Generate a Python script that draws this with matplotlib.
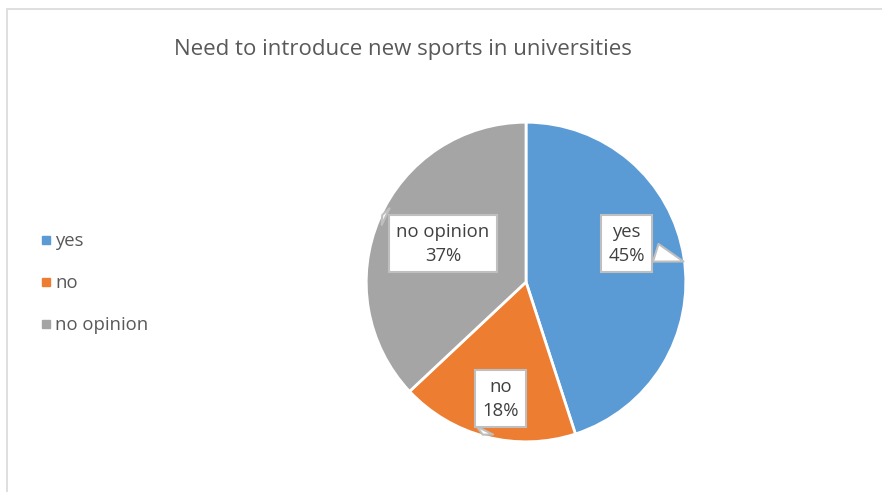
import matplotlib.pyplot as plt
import numpy as np
from matplotlib.patches import Rectangle

# Données
labels = ["yes", "no", "no opinion"]
values = [45, 18, 37]
colors = ["#5B9BD5", "#ED7D31", "#A5A5A5"]

# positions des étiquettes (en unités de rayon) et angle des pointes des bulles
label_xy = [(0.63, 0.24), (-0.16, -0.73), (-0.52, 0.24)]
tip_angles = [7, -106, 155]
tip_r = 1.01

plt.rcParams['font.family'] = ['Open Sans', 'DejaVu Sans']

fig = plt.figure(figsize=(8.82, 4.92), dpi=100)
fig.patch.set_facecolor('white')

# cadre gris clair du graphique
fig.patches.append(Rectangle((7 / 882, -0.1), 1.1, 1 - 9 / 492 + 0.1,
                             transform=fig.transFigure, fill=False,
                             edgecolor='#d9d9d9', linewidth=1.2))

ax = fig.add_axes([0.4116, 0.0955, 0.3696, 0.6626])
wedges, _ = ax.pie(values, colors=colors, startangle=90, counterclock=False,
                   wedgeprops=dict(edgecolor='white', linewidth=2))
ax.set_xlim(-1.02, 1.02)
ax.set_ylim(-1.02, 1.02)
ax.set_aspect('equal')

# étiquettes en bulles
for lab, val, (tx, ty), a in zip(labels, values, label_xy, tip_angles):
    ang = np.deg2rad(a)
    xy = (tip_r * np.cos(ang), tip_r * np.sin(ang))
    ax.annotate(f"{lab}\n{val}%", xy=xy, xytext=(tx, ty),
                ha='center', va='center', fontsize=13.3, color='#404040',
                linespacing=1.45,
                bbox=dict(boxstyle='square,pad=0.4', fc='white',
                          ec='#bfbfbf', lw=1.5),
                arrowprops=dict(arrowstyle='wedge,tail_width=1.0,shrink_factor=0.5',
                                fc='white', ec='#bfbfbf', lw=1.5),
                annotation_clip=False)

fig.text(403 / 882, 1 - 50 / 492, "Need to introduce new sports in universities",
         ha='center', va='center', fontsize=16, color='#595959')

handles = [plt.Line2D([], [], marker='s', linestyle='', color=c, markersize=6)
           for c in colors]
fig.legend(handles, labels, loc='center left', bbox_to_anchor=(0.024, 1 - 283 / 492),
           frameon=False, fontsize=13.3, labelcolor='#595959', handletextpad=0.05,
           labelspacing=1.3, handlelength=0.9)

fig.savefig("out.png", dpi=100)
